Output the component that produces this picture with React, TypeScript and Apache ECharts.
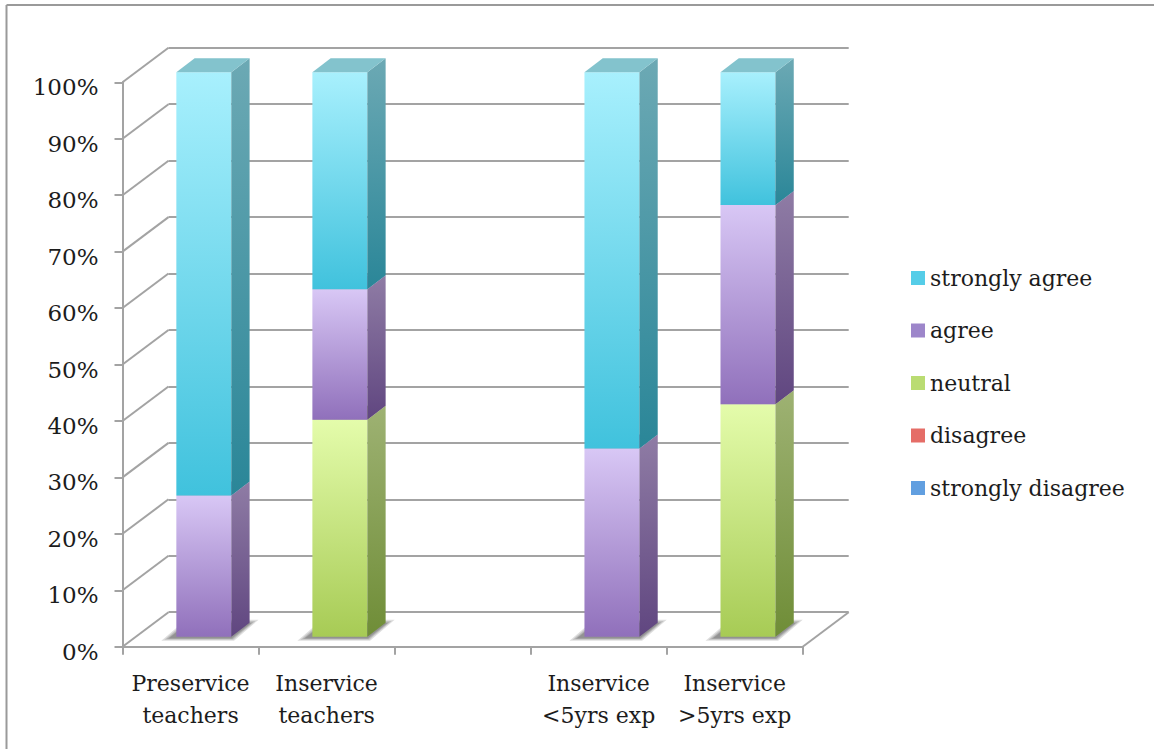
import React, { useEffect, useRef } from 'react';
import * as echarts from 'echarts';

// ---------- data ----------
const categories = ['Preservice\nteachers', 'Inservice\nteachers', '', 'Inservice\n<5yrs exp', 'Inservice\n>5yrs exp'];
const yTicks = [0, 10, 20, 30, 40, 50, 60, 70, 80, 90, 100];
const stronglyDisagree = [0, 0, 0, 0, 0];
const disagree = [0, 0, 0, 0, 0];
const neutral = [0, 38.46, 0, 0, 41.18];
const agree = [25, 23.08, 0, 33.33, 35.29];
const stronglyAgree = [75, 38.46, 0, 66.67, 23.53];
const seriesNames = ['strongly disagree', 'disagree', 'neutral', 'agree', 'strongly agree'];
const legendOrder = ['strongly agree', 'agree', 'neutral', 'disagree', 'strongly disagree'];

// ---------- styles ----------
const FONT = '"DejaVu Serif", serif';
const TEXT = '#1c1c1c';
const LINE = '#a3a3a3';
const WALL_DX = 46;
const WALL_DY = -34.5;
const BAR_FX = 13.3;
const BAR_FY = -10;
const BAR_DX = 18.3;
const BAR_DY = -14;
const BAR_FRAC = 0.404;

const palette: Record<string, any> = {
  'strongly agree': { front: ['#A8F0FD', '#40C2DD'], side: ['#6CA9B4', '#2A8698'], top: '#83C3CD', legend: '#55CDE8' },
  agree: { front: ['#D8C7F5', '#9070BB'], side: ['#8F7CA5', '#604680'], top: '#A796C0', legend: '#9D86CA' },
  neutral: { front: ['#E4FCAB', '#A7CB55'], side: ['#9EB273', '#6F8D37'], top: '#B9CC8C', legend: '#BADC72' },
  disagree: { front: ['#F4A7A2', '#D9534E'], side: ['#B06A66', '#8A3532'], top: '#D08C88', legend: '#E56D67' },
  'strongly disagree': { front: ['#A9CFF7', '#4A8ED8'], side: ['#6F92B8', '#3A6290'], top: '#8DAED2', legend: '#619FE0' },
};

const valuesBySeries = [stronglyDisagree, disagree, neutral, agree, stronglyAgree];
const totals = categories.map((_, i) => valuesBySeries.reduce((s, arr) => s + (arr[i] || 0), 0));

function vgrad(c: string[]) {
  return new echarts.graphic.LinearGradient(0, 0, 0, 1, [
    { offset: 0, color: c[0] },
    { offset: 1, color: c[1] },
  ]);
}

export default function App() {
  const ref = useRef<HTMLDivElement>(null);
  useEffect(() => {
    if (!ref.current) return;
    const chart = echarts.init(ref.current, null, { renderer: 'svg' });

    const barSeries = seriesNames.map((name, k) => {
      const vals = valuesBySeries[k];
      const data = categories.map((_, i) => {
        let base = 0;
        for (let j = 0; j < k; j++) base += valuesBySeries[j][i] || 0;
        return [i, base, base + (vals[i] || 0)];
      });
      const pal = palette[name];
      return {
        type: 'custom',
        name,
        xAxisIndex: 0,
        yAxisIndex: 0,
        z: 5,
        itemStyle: { color: pal.legend },
        data,
        renderItem: (params: any, api: any) => {
          const i = api.value(0);
          const b = api.value(1);
          const t = api.value(2);
          if (!(t - b > 0)) return null;
          const bw = api.size([1, 0])[0] * BAR_FRAC;
          const c0 = api.coord([i, b]);
          const c1 = api.coord([i, t]);
          const L = c0[0] - bw / 2 + BAR_FX;
          const R = L + bw;
          const yb = c0[1] + BAR_FY;
          const yt = c1[1] + BAR_FY;
          return {
            type: 'group',
            children: [
              {
                type: 'rect',
                shape: { x: L, y: yt, width: bw, height: yb - yt },
                style: { fill: vgrad(pal.front) },
              },
              {
                type: 'polygon',
                shape: { points: [[R, yb], [R + BAR_DX, yb + BAR_DY], [R + BAR_DX, yt + BAR_DY], [R, yt]] },
                style: { fill: vgrad(pal.side) },
              },
              {
                type: 'polygon',
                shape: { points: [[L, yt], [R, yt], [R + BAR_DX, yt + BAR_DY], [L + BAR_DX, yt + BAR_DY]] },
                style: { fill: pal.top },
              },
            ],
          };
        },
      };
    });

    // soft floor shadow: stacked translucent parallelograms
    const shadowSeries = {
      type: 'custom',
      name: 'shadow',
      xAxisIndex: 0,
      yAxisIndex: 0,
      z: 3,
      silent: true,
      data: categories.map((_, i) => [i, totals[i]]),
      renderItem: (params: any, api: any) => {
        const i = api.value(0);
        if (!(api.value(1) > 0)) return null;
        const bw = api.size([1, 0])[0] * BAR_FRAC;
        const c0 = api.coord([i, 0]);
        const L = c0[0] - bw / 2 + BAR_FX - 6;
        const R = L + bw + 6;
        const yb = c0[1] + BAR_FY + 1;
        const children: any[] = [];
        const steps = [9, 6, 3.5, 1.5];
        steps.forEach((e) => {
          children.push({
            type: 'polygon',
            shape: {
              points: [
                [L - e, yb + e * 0.35],
                [R + e * 0.3, yb + e * 0.35],
                [R + BAR_DX + e, yb + BAR_DY - e * 0.45],
                [L + BAR_DX - e * 0.3, yb + BAR_DY - e * 0.45],
              ],
            },
            style: { fill: 'rgba(0,0,0,0.13)' },
          });
        });
        return { type: 'group', children };
      },
    };

    const frameSeries = {
      type: 'custom',
      name: 'frame',
      xAxisIndex: 0,
      yAxisIndex: 0,
      z: 2,
      silent: true,
      data: yTicks.map((v) => [0, v]),
      renderItem: (params: any, api: any) => {
        const cs = params.coordSys;
        const v = api.value(1);
        const y = api.coord([0, v])[1];
        const children: any[] = [
          {
            type: 'line',
            shape: { x1: cs.x, y1: y, x2: cs.x + WALL_DX, y2: y + WALL_DY },
            style: { stroke: LINE, lineWidth: 2 },
          },
        ];
        if (v === 0) {
          children.push({
            type: 'line',
            shape: { x1: cs.x + cs.width, y1: y, x2: cs.x + cs.width + WALL_DX, y2: y + WALL_DY },
            style: { stroke: LINE, lineWidth: 2 },
          });
        }
        return { type: 'group', children };
      },
    };

    const gLeft = 122.5;
    const gTop = 82.3;
    const gWidth = 680.2;
    const gHeight = 564.4;

    chart.setOption({
      animation: false,
      backgroundColor: '#ffffff',
      graphic: [
        { type: 'line', shape: { x1: 6.5, y1: 5, x2: 1154, y2: 5 }, style: { stroke: '#9a9a9a', lineWidth: 2 } },
        { type: 'line', shape: { x1: 6.5, y1: 5, x2: 6.5, y2: 749 }, style: { stroke: '#9a9a9a', lineWidth: 2 } },
      ],
      legend: {
        orient: 'vertical',
        left: 906,
        top: 260,
        itemWidth: 14,
        itemHeight: 14,
        itemGap: 26.5,
        icon: 'rect',
        selectedMode: false,
        textStyle: { fontFamily: FONT, fontSize: 22, color: TEXT, lineHeight: 26 },
        data: legendOrder.map((n) => ({ name: n, itemStyle: { color: palette[n].legend } })),
      },
      grid: [
        { left: gLeft, top: gTop, width: gWidth, height: gHeight },
        { left: gLeft + WALL_DX, top: gTop + WALL_DY, width: gWidth, height: gHeight },
      ],
      xAxis: [
        {
          type: 'category',
          gridIndex: 0,
          data: categories,
          boundaryGap: true,
          axisLine: { show: true, lineStyle: { color: LINE, width: 2 } },
          axisTick: { show: true, length: 8, interval: 0, alignWithLabel: false, lineStyle: { color: LINE, width: 2 } },
          axisLabel: { interval: 0, margin: 21, fontFamily: FONT, fontSize: 22, color: TEXT, lineHeight: 32 },
          splitLine: { show: false },
        },
        {
          type: 'category',
          gridIndex: 1,
          data: categories,
          show: false,
        },
      ],
      yAxis: [
        {
          type: 'value',
          gridIndex: 0,
          min: 0,
          max: 100,
          interval: 10,
          axisLine: { show: true, lineStyle: { color: LINE, width: 2 } },
          axisTick: { show: true, length: 8, lineStyle: { color: LINE, width: 2 } },
          axisLabel: {
            formatter: '{value}%',
            margin: 24,
            fontFamily: FONT,
            fontSize: 23,
            color: TEXT,
            verticalAlign: 'top',
            lineHeight: 10,
          },
          splitLine: { show: false },
        },
        {
          type: 'value',
          gridIndex: 1,
          min: 0,
          max: 100,
          interval: 10,
          axisLine: { show: false },
          axisTick: { show: false },
          axisLabel: { show: false },
          splitLine: { show: true, lineStyle: { color: LINE, width: 2 } },
        },
      ],
      series: [frameSeries, shadowSeries, ...barSeries],
    });
    return () => chart.dispose();
  }, []);

  return (
    <div
      ref={ref}
      style={{ position: 'absolute', left: 0, top: 0, width: 1154, height: 749, background: '#fff' }}
    />
  );
}
